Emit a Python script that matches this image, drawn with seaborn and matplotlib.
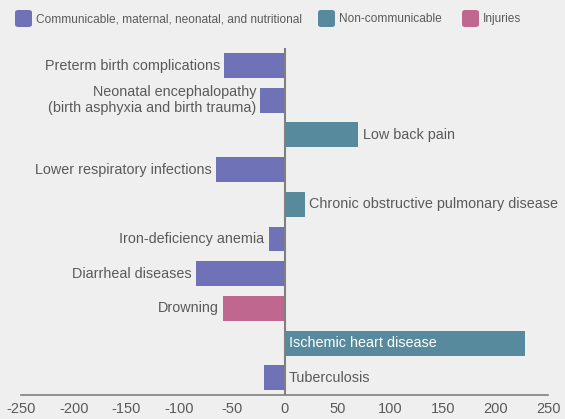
import matplotlib
matplotlib.use("Agg")
import matplotlib.pyplot as plt
from matplotlib.patches import FancyBboxPatch
import seaborn as sns
import pandas as pd

# data
causes = ["Preterm birth complications",
          "Neonatal encephalopathy\n(birth asphyxia and birth trauma)",
          "Low back pain",
          "Lower respiratory infections",
          "Chronic obstructive pulmonary disease",
          "Iron-deficiency anemia",
          "Diarrheal diseases",
          "Drowning",
          "Ischemic heart disease",
          "Tuberculosis"]
change = [-57, -23, 70, -65, 19, -15, -84, -58, 228, -20]
group = ["Communicable", "Communicable", "Non-communicable", "Communicable",
         "Non-communicable", "Communicable", "Communicable", "Injuries",
         "Non-communicable", "Communicable"]
legend_groups = ["Communicable", "Non-communicable", "Injuries"]
legend_labels = ["Communicable, maternal, neonatal, and nutritional",
                 "Non-communicable", "Injuries"]
ticks = [-250, -200, -150, -100, -50, 0, 50, 100, 150, 200, 250]

colors = {"Communicable": "#7072b7", "Non-communicable": "#578a9c", "Injuries": "#c0678f"}
bg = "#efefef"
txt = "#5a5a5a"

sns.set_style("white")
plt.rcParams['font.family'] = ['Liberation Sans', 'DejaVu Sans']

df = pd.DataFrame({"cause": causes, "change": change, "group": group})

fig = plt.figure(figsize=(5.65, 4.19), dpi=100, facecolor=bg)
ax = fig.add_axes([0.0372, 0.057, 0.933, 0.828])
ax.set_facecolor(bg)

sns.barplot(data=df, x="change", y="cause", hue="group", palette=colors,
            dodge=False, orient="h", width=0.72, saturation=1, legend=False,
            linewidth=0, ax=ax)

ax.set_xlim(-250, 250)
ax.set_ylim(9.5, -0.5)
ax.set_xticks(ticks)
ax.set_xticklabels([str(t) for t in ticks], fontsize=10.5, color=txt)
ax.set_yticks([])
ax.set_xlabel("")
ax.set_ylabel("")
for s in ["top", "right", "left"]:
    ax.spines[s].set_visible(False)
ax.spines["bottom"].set_color("#808080")
ax.spines["bottom"].set_linewidth(1.2)
ax.tick_params(axis="x", direction="in", length=6, color="#808080", width=1.2, pad=5)
ax.axvline(0, color="#808080", lw=1.5, zorder=3)

# bar labels
fs = 10.4
for i, (c, v) in enumerate(zip(causes, change)):
    if c == "Ischemic heart disease":
        ax.text(4, i, c, ha="left", va="center", color="white", fontsize=fs)
    elif c == "Tuberculosis":
        ax.text(4, i, c, ha="left", va="center", color=txt, fontsize=fs)
    elif v < 0:
        ax.text(v - 4, i, c, ha="right", va="center", color=txt, fontsize=fs,
                linespacing=1.2)
    else:
        ax.text(v + 4, i, c, ha="left", va="center", color=txt, fontsize=fs)

# legend across the top
W, H = 565, 419
sq_x = [15, 318, 462]
for x0, g, lab in zip(sq_x, legend_groups, legend_labels):
    fig.patches.append(FancyBboxPatch((x0 / W, 1 - 27 / H), 17 / W, 17 / H,
                                      boxstyle="round,pad=0,rounding_size=0.006",
                                      transform=fig.transFigure, facecolor=colors[g],
                                      edgecolor="none"))
    fig.text((x0 + 21) / W, 1 - 22 / H, lab, ha="left", va="baseline",
             fontsize=8.6, color=txt)

fig.savefig("out.png", dpi=100, facecolor=bg)
